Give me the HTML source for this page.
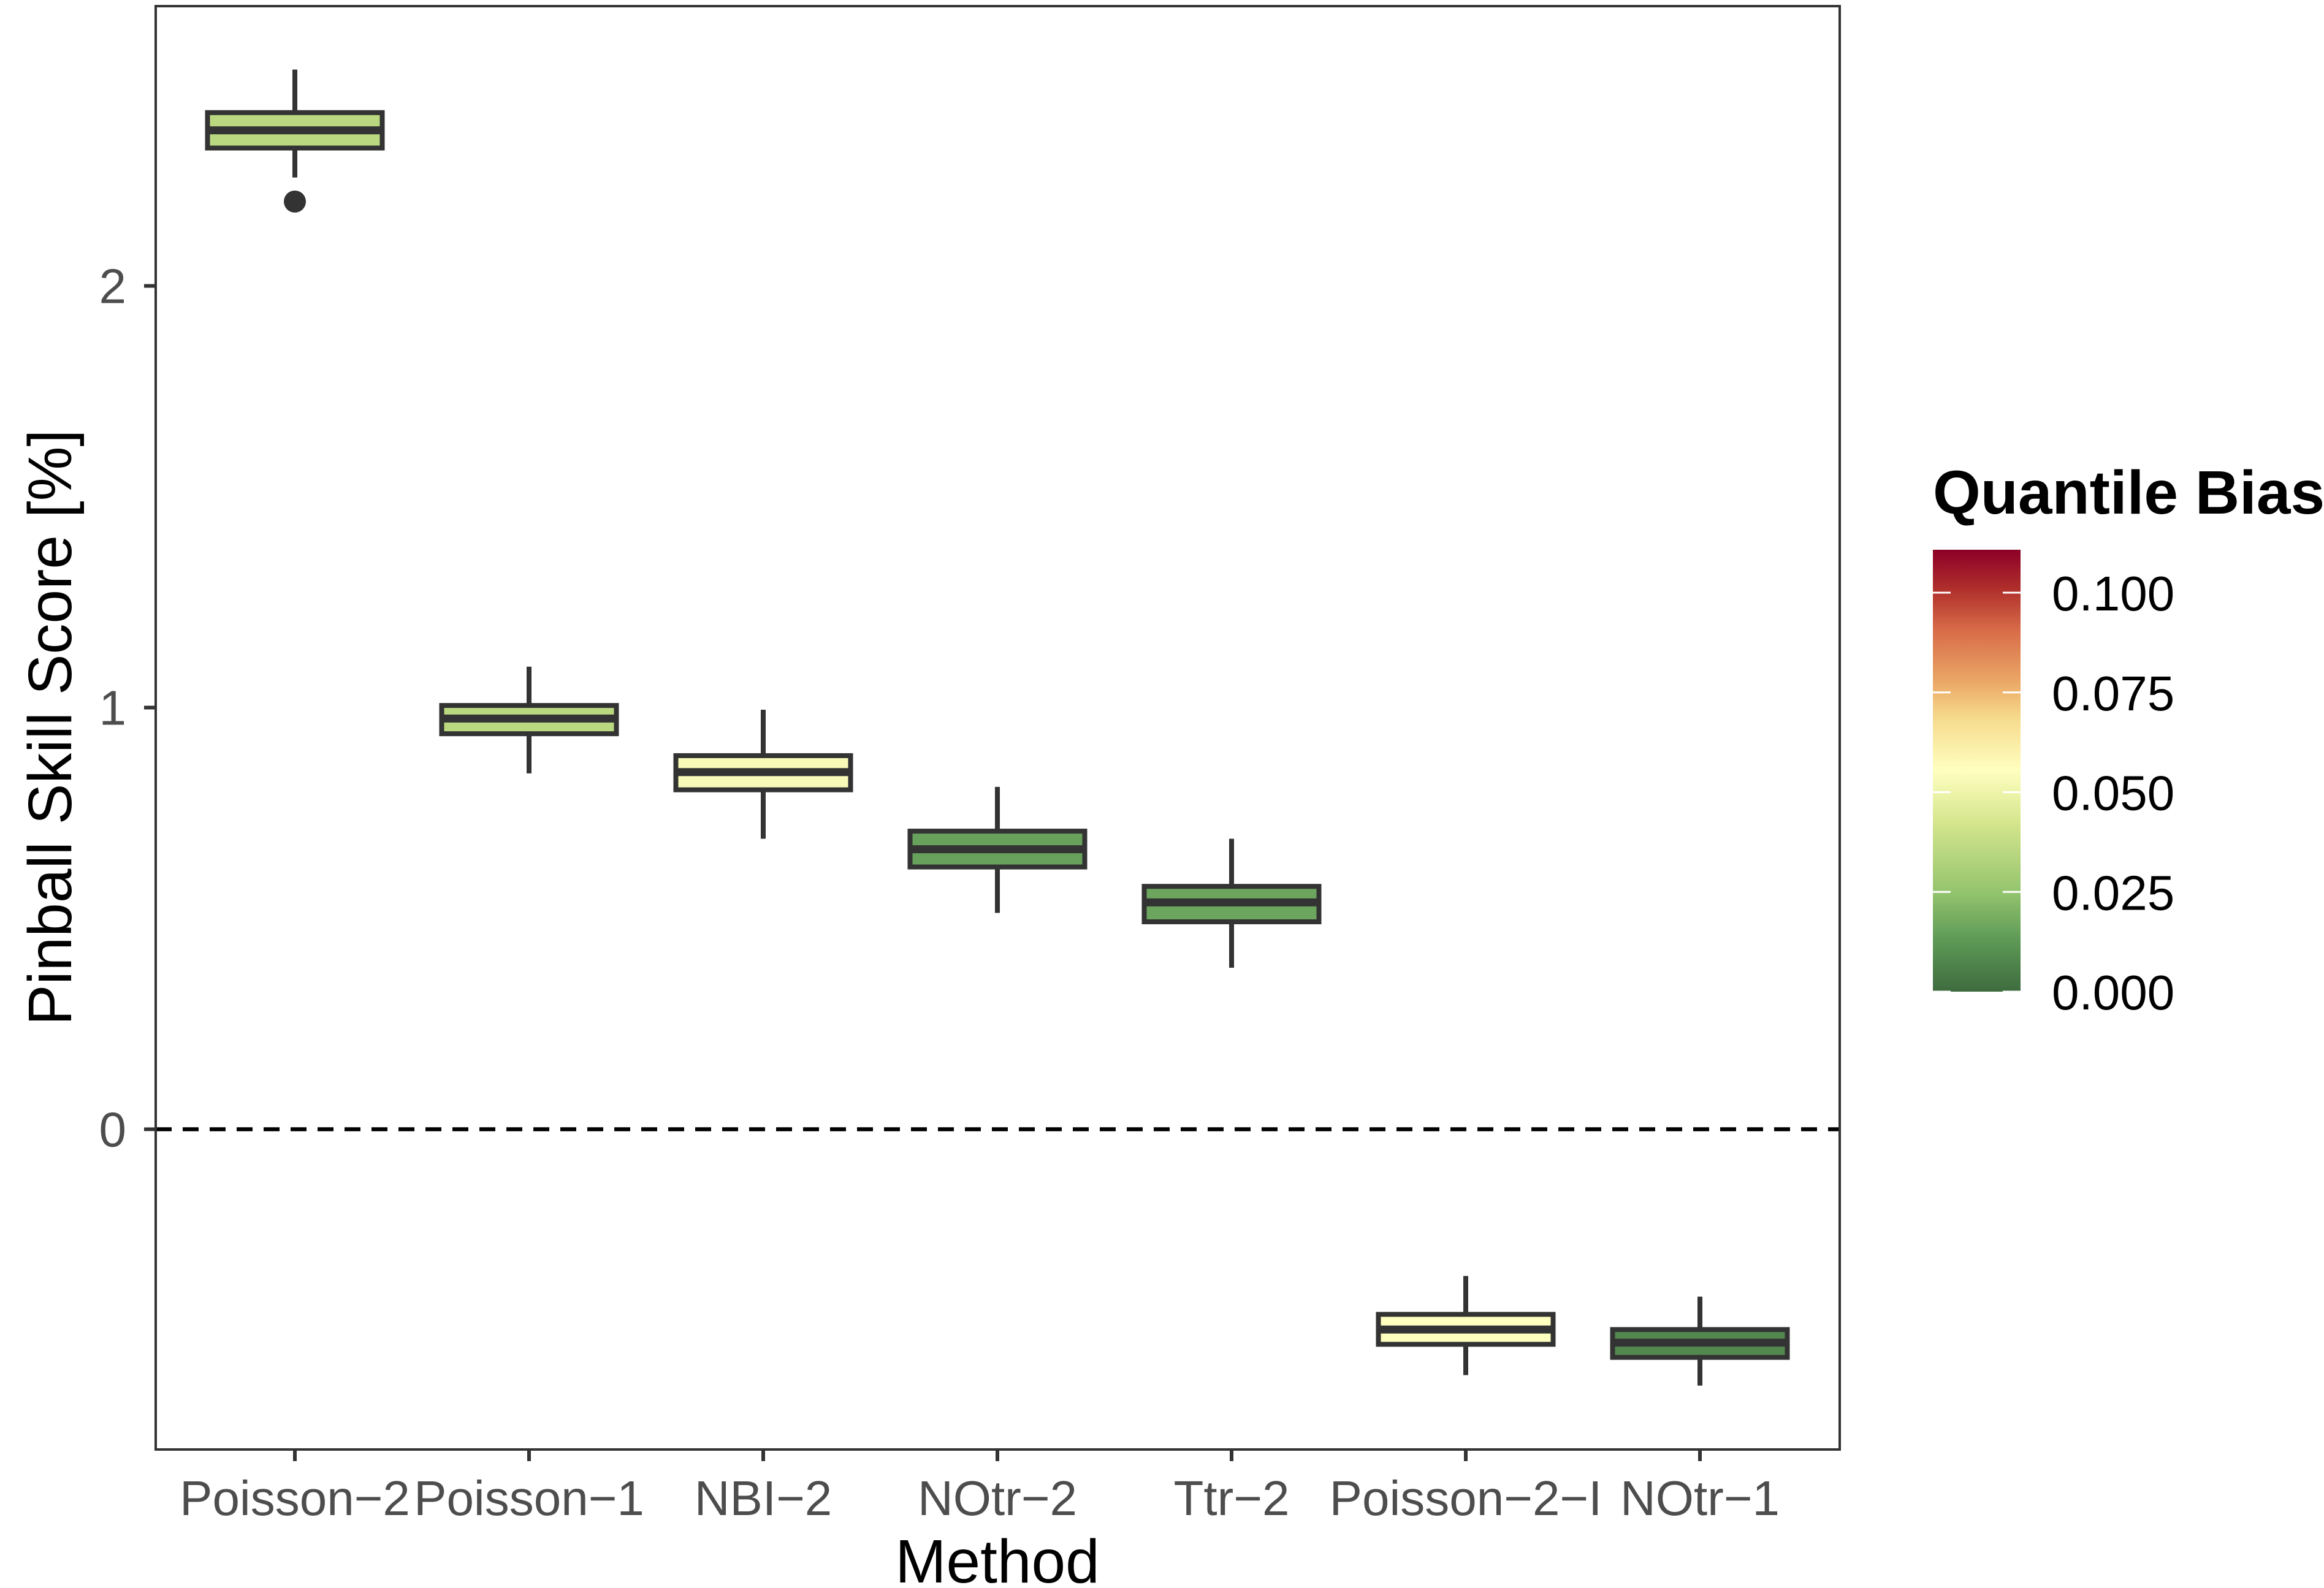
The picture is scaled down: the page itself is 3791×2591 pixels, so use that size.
<!DOCTYPE html>
<html><head><meta charset="utf-8"><style>
html,body{margin:0;padding:0;background:#fff;}
svg{display:block;font-family:"Liberation Sans",Arial,sans-serif;}
</style></head><body>
<svg id="chart" width="3791" height="2591" viewBox="0 0 3791 2591" xmlns="http://www.w3.org/2000/svg">
<defs>
<linearGradient id="cb" x1="0" y1="1" x2="0" y2="0">
<stop offset="0" stop-color="#3e6b3f"/>
<stop offset="0.12" stop-color="#5f9b57"/>
<stop offset="0.225" stop-color="#94c46e"/>
<stop offset="0.38" stop-color="#d4e58c"/>
<stop offset="0.5" stop-color="#ffffbf"/>
<stop offset="0.62" stop-color="#f6da8c"/>
<stop offset="0.70" stop-color="#eba866"/>
<stop offset="0.82" stop-color="#d76a48"/>
<stop offset="0.91" stop-color="#b0302b"/>
<stop offset="1" stop-color="#8c0028"/>
</linearGradient>
</defs>
<g id="plot"></g>
</svg>
<script>
const categories=["Poisson\u22122","Poisson\u22121","NBI\u22122","NOtr\u22122","Ttr\u22122","Poisson\u22122\u2212I","NOtr\u22121"];
const whiskerHigh=[2.513,1.097,0.995,0.812,0.689,-0.348,-0.397];
const q3=[2.411,1.005,0.886,0.707,0.576,-0.439,-0.475];
const medians=[2.369,0.974,0.847,0.664,0.538,-0.475,-0.506];
const q1=[2.327,0.938,0.805,0.622,0.492,-0.510,-0.541];
const whiskerLow=[2.257,0.844,0.689,0.513,0.383,-0.583,-0.608];
const outliers=[[0,2.20]];
const bias=[0.035,0.035,0.053,0.015,0.016,0.055,0.008];
const yTicks=[0,1,2];
const biasTicks=[0,0.025,0.05,0.075,0.1];

const NS="http://www.w3.org/2000/svg";
const g=document.getElementById('plot');
function el(t,a,p){const e=document.createElementNS(NS,t);for(const k in a)e.setAttribute(k,a[k]);(p||g).appendChild(e);return e;}
const PL=254,PR=3001,PT=10,PB=2365;
const y=v=>1842.5-v*688;
const x=i=>481+i*382;
const BW=285;
const cbY=v=>1618-v*(1618-967)/0.1;
function biasColor(b){
 const stops=[[0,[62,107,63]],[0.0132,[95,155,87]],[0.0248,[148,196,110]],[0.042,[212,229,140]],[0.055,[255,255,191]],[0.068,[246,218,140]],[0.077,[235,168,102]],[0.09,[215,106,72]],[0.1,[176,48,43]],[0.11,[140,0,40]]];
 for(let i=1;i<stops.length;i++){if(b<=stops[i][0]){const [a0,c0]=stops[i-1],[a1,c1]=stops[i];const t=(b-a0)/(a1-a0);return 'rgb('+c0.map((c,k)=>Math.round(c+(c1[k]-c)*t)).join(',')+')';}}
 return 'rgb(140,0,40)';
}
let e;
e=el('rect',{x:PL,y:PT,width:PR-PL,height:PB-PT,fill:'#fff'});


e=el('line',{x1:PL,x2:PR,y1:y(0),y2:y(0),stroke:'#000','stroke-width':6.5,'stroke-dasharray':'26,18'});


categories.forEach((c,i)=>{
 const cx=x(i);
 e=el('line',{x1:cx,x2:cx,y1:y(whiskerHigh[i]),y2:y(whiskerLow[i]),stroke:'#333','stroke-width':8});
 
 
 e=el('rect',{x:cx-BW/2,y:y(q3[i]),width:BW,height:y(q1[i])-y(q3[i]),fill:biasColor(bias[i]),stroke:'#333','stroke-width':8});
 
 
 e=el('line',{x1:cx-BW/2,x2:cx+BW/2,y1:y(medians[i]),y2:y(medians[i]),stroke:'#333','stroke-width':13});
 
 
 e=el('line',{x1:cx,x2:cx,y1:PB,y2:PB+19,stroke:'#333','stroke-width':6});
 
 
 e=el('text',{x:cx,y:2472,'text-anchor':'middle','font-size':80,fill:'#4d4d4d'});
 e.textContent=c;
 
 
});
outliers.forEach(o=>{
 e=el('circle',{cx:x(o[0]),cy:y(o[1]),r:18,fill:'#333'});
 
 
});
yTicks.forEach(t=>{
 e=el('line',{x1:PL-19,x2:PL,y1:y(t),y2:y(t),stroke:'#333','stroke-width':6});
 
 
 e=el('text',{x:206,y:y(t)+28,'text-anchor':'end','font-size':80,fill:'#4d4d4d'});
 e.textContent=t;
 
 
});
e=el('rect',{x:PL,y:PT,width:PR-PL,height:PB-PT,fill:'none',stroke:'#333','stroke-width':4});


e=el('text',{x:1627,y:2582,'text-anchor':'middle','font-size':100,fill:'#000'});
e.textContent='Method';


e=el('text',{x:0,y:0,'text-anchor':'middle','font-size':100,fill:'#000',transform:'translate(116,1187) rotate(-90)'});
e.textContent='Pinball Skill Score [%]';


e=el('text',{x:3153,y:838,'font-size':100,'font-weight':'bold',fill:'#000'});
e.textContent='Quantile Bias';


e=el('rect',{x:3153,y:897,width:143,height:721,fill:'url(#cb)'});


biasTicks.forEach(t=>{
 e=el('line',{x1:3153,x2:3182,y1:cbY(t),y2:cbY(t),stroke:'#fff','stroke-width':3});
 
 
 e=el('line',{x1:3267,x2:3296,y1:cbY(t),y2:cbY(t),stroke:'#fff','stroke-width':3});
 
 
 e=el('text',{x:3347,y:cbY(t)+29,'font-size':80,fill:'#000'});
 e.textContent=t.toFixed(3);
 
 
});
</script>
</body></html>
